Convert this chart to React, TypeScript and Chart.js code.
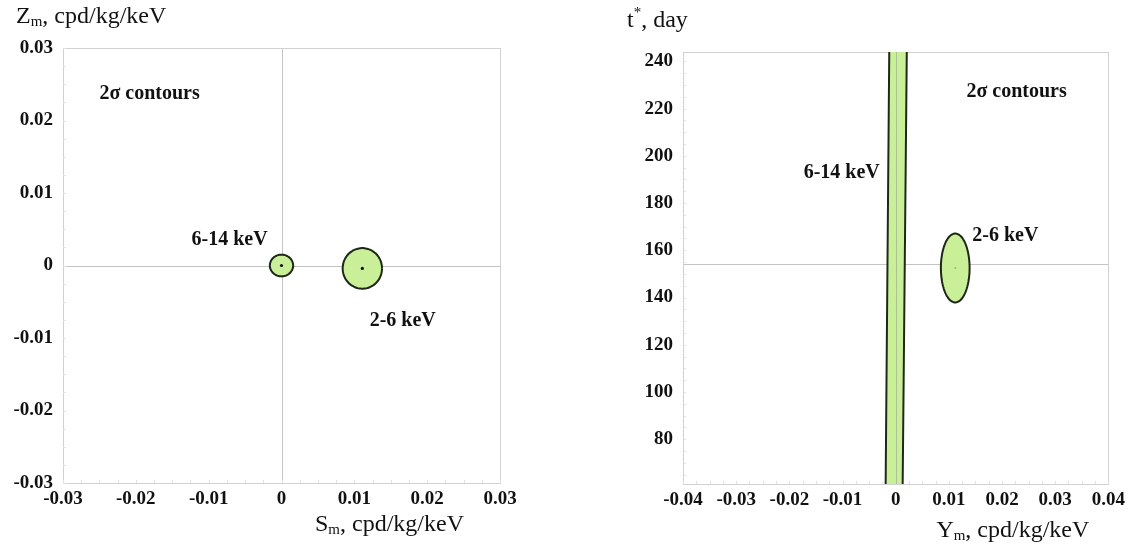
import React, { useEffect, useRef } from "react";
import { Chart, registerables } from "chart.js";

Chart.register(...registerables);

// ---------- Left panel (Sm vs Zm) ----------
const leftXTicks = [-0.03, -0.02, -0.01, 0, 0.01, 0.02, 0.03];
const leftXTickLabels = ["-0.03", "-0.02", "-0.01", "0", "0.01", "0.02", "0.03"];
const leftYTicks = [-0.03, -0.02, -0.01, 0, 0.01, 0.02, 0.03];
const leftYTickLabels = ["-0.03", "-0.02", "-0.01", "0", "0.01", "0.02", "0.03"];
const leftXRange = [-0.03, 0.03];
const leftYRange = [-0.03, 0.03];
const leftNames = ["6-14 keV", "2-6 keV"];
const leftCenterX = [0.0, 0.0111];
const leftCenterY = [0.0, -0.0004];
const leftRadiusX = [0.0016, 0.0027];
const leftRadiusY = [0.0015, 0.0028];
const leftCross = [0, 0];

// ---------- Right panel (Ym vs t*) ----------
const rightXTicks = [-0.04, -0.03, -0.02, -0.01, 0, 0.01, 0.02, 0.03, 0.04];
const rightXTickLabels = ["-0.04", "-0.03", "-0.02", "-0.01", "0", "0.01", "0.02", "0.03", "0.04"];
const rightYTicks = [80, 100, 120, 140, 160, 180, 200, 220, 240];
const rightYTickLabels = ["80", "100", "120", "140", "160", "180", "200", "220", "240"];
const rightXRange = [-0.04, 0.04];
const rightYRange = [61, 244];
const rightEllipseCenter = [0.0112, 152.5];
const rightEllipseRadius = [0.0027, 14.6];
const bandT = [58, 247];
const bandLeftX = [-0.0019, -0.0012];
const bandRightX = [0.0013, 0.0021];
const rightCross = [0, 154];

const FILL = "rgb(201, 239, 152)";
const EDGE = "#1e2818";
const FONT = '"Liberation Serif", "Times New Roman", serif';

function ellipse(cx: number, cy: number, rx: number, ry: number) {
  const pts: { x: number; y: number }[] = [];
  const n = 90;
  for (let i = 0; i <= n; i++) {
    const a = (i / n) * Math.PI * 2;
    pts.push({ x: cx + rx * Math.cos(a), y: cy + ry * Math.sin(a) });
  }
  return pts;
}

type Ann = { text: string; x: number; y: number; align: CanvasTextAlign };
type Title = { main: string; mark: string; rest: string; sup: boolean; dx: number; dy: number; from: "tl" | "br" };

function makeOptions(
  xr: number[], yr: number[], xt: number[], xl: string[], yt: number[], yl: string[],
  yWidth: number, xHeight: number, padRight: number, padTop: number, minorX: number, minorY: number,
  cross: number[], crossVOver: boolean, anns: Ann[], titles: Title[]
): any {
  const crossPlugin = {
    id: "cross",
    beforeDatasetsDraw(chart: any) {
      const { ctx, chartArea: a, scales } = chart;
      ctx.save();
      ctx.strokeStyle = "#c4c4c4";
      ctx.lineWidth = 1;
      const py = Math.round(scales.y.getPixelForValue(cross[1])) + 0.5;
      ctx.beginPath();
      ctx.moveTo(a.left, py);
      ctx.lineTo(a.right, py);
      ctx.stroke();
      if (!crossVOver) {
        const px = Math.round(scales.x.getPixelForValue(cross[0])) + 0.5;
        ctx.beginPath();
        ctx.moveTo(px, a.top);
        ctx.lineTo(px, a.bottom);
        ctx.stroke();
      }
      // border
      ctx.strokeStyle = "#d2d2d2";
      ctx.strokeRect(Math.round(a.left) + 0.5, Math.round(a.top) + 0.5, Math.round(a.right - a.left), Math.round(a.bottom - a.top));
      // minor ticks
      ctx.strokeStyle = "#e2e2e2";
      for (let v = xr[0]; v <= xr[1] + 1e-9; v += minorX) {
        const px = Math.round(scales.x.getPixelForValue(v)) + 0.5;
        ctx.beginPath();
        ctx.moveTo(px, a.bottom);
        ctx.lineTo(px, a.bottom - 3);
        ctx.stroke();
      }
      const startY = Math.ceil(yr[0] / minorY) * minorY;
      for (let v = startY; v <= yr[1] + 1e-9; v += minorY) {
        const py2 = Math.round(scales.y.getPixelForValue(v)) + 0.5;
        ctx.beginPath();
        ctx.moveTo(a.left, py2);
        ctx.lineTo(a.left + 3, py2);
        ctx.stroke();
      }
      ctx.restore();
    },
    afterDatasetsDraw(chart: any) {
      if (!crossVOver) return;
      const { ctx, chartArea: a, scales } = chart;
      ctx.save();
      ctx.strokeStyle = "rgba(140,140,140,0.45)";
      ctx.lineWidth = 1;
      const px = Math.round(scales.x.getPixelForValue(cross[0])) + 0.5;
      ctx.beginPath();
      ctx.moveTo(px, a.top);
      ctx.lineTo(px, a.bottom);
      ctx.stroke();
      ctx.restore();
    },
    afterDraw(chart: any) {
      const { ctx, chartArea: a, scales } = chart;
      ctx.save();
      ctx.fillStyle = "#111";
      ctx.textBaseline = "middle";
      ctx.font = `bold 20px ${FONT}`;
      for (const an of anns) {
        ctx.textAlign = an.align;
        ctx.fillText(an.text, scales.x.getPixelForValue(an.x), scales.y.getPixelForValue(an.y));
      }
      ctx.textAlign = "left";
      for (const t of titles) {
        let x = t.from === "tl" ? a.left + t.dx : a.right + t.dx;
        const y = t.from === "tl" ? a.top + t.dy : a.bottom + t.dy;
        ctx.font = `24px ${FONT}`;
        ctx.fillText(t.main, x, y);
        x += ctx.measureText(t.main).width;
        ctx.font = `15px ${FONT}`;
        ctx.fillText(t.mark, x, t.sup ? y - 8 : y + 5);
        x += ctx.measureText(t.mark).width;
        ctx.font = `24px ${FONT}`;
        ctx.fillText(t.rest, x, y);
      }
      ctx.restore();
    },
  };

  return {
    plugins: [crossPlugin],
    options: {
      animation: false,
      responsive: false,
      events: [],
      layout: { padding: { left: 0, right: padRight, top: padTop, bottom: 0 } },
      plugins: { legend: { display: false }, tooltip: { enabled: false } },
      scales: {
        x: {
          type: "linear",
          min: xr[0],
          max: xr[1],
          grid: { display: false, drawTicks: false },
          border: { display: false },
          afterBuildTicks: (s: any) => { s.ticks = xt.map((v) => ({ value: v })); },
          afterFit: (s: any) => { s.height = xHeight; },
          ticks: {
            autoSkip: false,
            maxRotation: 0,
            padding: 5,
            color: "#111",
            font: { family: FONT, size: 19, weight: "bold" },
            callback: (_v: any, i: number) => xl[i],
          },
        },
        y: {
          type: "linear",
          min: yr[0],
          max: yr[1],
          grid: { display: false, drawTicks: false },
          border: { display: false },
          afterBuildTicks: (s: any) => { s.ticks = yt.map((v) => ({ value: v })); },
          afterFit: (s: any) => { s.width = yWidth; },
          ticks: {
            autoSkip: false,
            padding: 10,
            color: "#111",
            font: { family: FONT, size: 19, weight: "bold" },
            callback: (_v: any, i: number) => yl[i],
          },
        },
      },
    },
  };
}

function contourDataset(points: { x: number; y: number }[], tension: number) {
  return {
    data: points,
    showLine: true,
    fill: "shape",
    backgroundColor: FILL,
    borderColor: EDGE,
    borderWidth: 2,
    pointRadius: 0,
    tension,
    clip: 0,
  };
}

function LeftPanel() {
  const ref = useRef<HTMLCanvasElement>(null);
  useEffect(() => {
    const { plugins, options } = makeOptions(
      leftXRange, leftYRange, leftXTicks, leftXTickLabels, leftYTicks, leftYTickLabels,
      63, 65, 65, 48, 0.0025, 0.0025, leftCross, false,
      [
        { text: "2σ contours", x: -0.0250, y: 0.0237, align: "left" },
        { text: leftNames[0], x: -0.0019, y: 0.0036, align: "right" },
        { text: leftNames[1], x: 0.0121, y: -0.0076, align: "left" },
      ],
      [
        { main: "Z", mark: "m", rest: ", cpd/kg/keV", sup: false, dx: -47, dy: -31, from: "tl" },
        { main: "S", mark: "m", rest: ", cpd/kg/keV", sup: false, dx: -185, dy: 42, from: "br" },
      ]
    );
    const datasets: any[] = leftNames.map((_, i) =>
      contourDataset(ellipse(leftCenterX[i], leftCenterY[i], leftRadiusX[i], leftRadiusY[i]), 0.1)
    );
    datasets.unshift({
      data: leftNames.map((_, i) => ({ x: leftCenterX[i], y: leftCenterY[i] })),
      showLine: false,
      pointRadius: 1.6,
      pointBackgroundColor: "#111",
      pointBorderWidth: 0,
    });
    const chart = new Chart(ref.current as HTMLCanvasElement, {
      type: "scatter",
      data: { datasets },
      options,
      plugins,
    } as any);
    return () => chart.destroy();
  }, []);
  return <canvas ref={ref} width={565} height={548} style={{ display: "block" }} />;
}

function RightPanel() {
  const ref = useRef<HTMLCanvasElement>(null);
  useEffect(() => {
    const { plugins, options } = makeOptions(
      rightXRange, rightYRange, rightXTicks, rightXTickLabels, rightYTicks, rightYTickLabels,
      118, 64, 20, 52, 0.0025, 5, rightCross, true,
      [
        { text: "2σ contours", x: 0.0133, y: 227, align: "left" },
        { text: "6-14 keV", x: -0.0030, y: 192.8, align: "right" },
        { text: "2-6 keV", x: 0.0144, y: 166.1, align: "left" },
      ],
      [
        { main: "t", mark: "*", rest: ", day", sup: true, dx: -56, dy: -31, from: "tl" },
        { main: "Y", mark: "m", rest: ", cpd/kg/keV", sup: false, dx: -172, dy: 47, from: "br" },
      ]
    );
    const band = [
      { x: bandLeftX[0], y: bandT[0] },
      { x: bandLeftX[1], y: bandT[1] },
      { x: bandRightX[1], y: bandT[1] },
      { x: bandRightX[0], y: bandT[0] },
      { x: bandLeftX[0], y: bandT[0] },
    ];
    const datasets: any[] = [
      {
        data: [{ x: rightEllipseCenter[0], y: rightEllipseCenter[1] }],
        showLine: false,
        pointRadius: 1,
        pointBackgroundColor: "rgba(120,150,100,0.6)",
        pointBorderWidth: 0,
      },
      contourDataset(ellipse(rightEllipseCenter[0], rightEllipseCenter[1], rightEllipseRadius[0], rightEllipseRadius[1]), 0.1),
      contourDataset(band, 0),
    ];
    const chart = new Chart(ref.current as HTMLCanvasElement, {
      type: "scatter",
      data: { datasets },
      options,
      plugins,
    } as any);
    return () => chart.destroy();
  }, []);
  return <canvas ref={ref} width={565} height={548} style={{ display: "block" }} />;
}

export default function App() {
  return (
    <div style={{ position: "absolute", left: 0, top: 0, width: 1130, height: 548, background: "#fff", overflow: "hidden" }}>
      <div style={{ position: "absolute", left: 0, top: 0, width: 565, height: 548 }}>
        <LeftPanel />
      </div>
      <div style={{ position: "absolute", left: 565, top: 0, width: 565, height: 548 }}>
        <RightPanel />
      </div>
    </div>
  );
}
